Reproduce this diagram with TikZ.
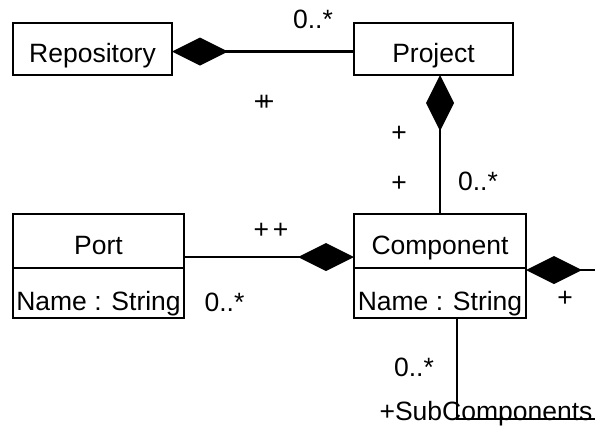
\documentclass[tikz,border=0pt]{standalone}
\usepackage{fontspec}
\setmainfont{Liberation Sans}
\usetikzlibrary{arrows.meta}

\tikzset{
  every node/.style={font=\fontsize{26.5}{30}\selectfont},
  classpart/.style={draw, line width=2.8pt, inner sep=0pt, outer sep=0pt,
                    text height=26.6pt, text depth=0pt},
  attrpart/.style={classpart, text height=34pt},
  lbl/.style={inner sep=0pt},
  composition/.style={line width=2.8pt, -{Diamond[length=56pt,width=28pt]}},
  composition start/.style={line width=2.8pt, {Diamond[length=56pt,width=28pt]}-},
}

\begin{document}
\begin{tikzpicture}[x=1pt, y=-1pt]
  \clip (0,0) rectangle (595,426);
  \fill[white] (0,0) rectangle (595,426);

  % classes
  \node[classpart, minimum width=159pt, minimum height=52pt] (repo) at (92.5,49) {Repository};
  \node[classpart, minimum width=159pt, minimum height=52pt] (proj) at (433.5,49) {Project};

  \node[classpart, minimum width=171pt, minimum height=54pt] (port) at (98.5,241) {Port};
  \node[attrpart, minimum width=171pt, minimum height=50pt, anchor=north] (port-attr) at (port.south) {Name : String};

  \node[classpart, minimum width=172pt, minimum height=54pt] (comp) at (440,241) {Component};
  \node[attrpart, minimum width=172pt, minimum height=50pt, anchor=north] (comp-attr) at (comp.south) {Name : String};

  % associations
  \draw[composition] ([yshift=-2.5pt]proj.west) -- ([yshift=-2.5pt]repo.east);
  \draw[composition] (comp.north) -- (proj.south -| comp.north);
  \draw[composition] ([yshift=11pt]port.south east) -- ([yshift=11pt]comp.south west);

  % recursive composition of sub-components
  \coordinate (loop-corner) at (615,419);
  \coordinate (loop-foot) at (457,419);
  \draw[composition start] ([yshift=-2pt]comp.south east) -| (loop-corner)
       -- (loop-foot) -- (loop-foot |- comp-attr.south);

  % role names and multiplicities
  \node[lbl, anchor=base] (m-repo) at (313,28) {0..*};
  \node[lbl] (r-repo-a) at (261.5,103) {+};
  \node[lbl] (r-repo-b) at (266.5,103) {+};

  \node[lbl] (r-proj-a) at (399,134) {+};
  \node[lbl] (r-proj-b) at (399,184) {+};
  \node[lbl, anchor=base] (m-proj) at (478,190) {0..*};

  \node[lbl] (r-port) at (271,231) {+\hspace{4pt}+};
  \node[lbl, anchor=base] (m-port) at (224.5,311.7) {0..*};

  \node[lbl] (r-sub) at (565,299) {+};
  \node[lbl, anchor=base] (m-sub) at (414,376.7) {0..*};
  \node[lbl, anchor=base] (n-sub) at (486,420) {+SubComponents};
\end{tikzpicture}
\end{document}
